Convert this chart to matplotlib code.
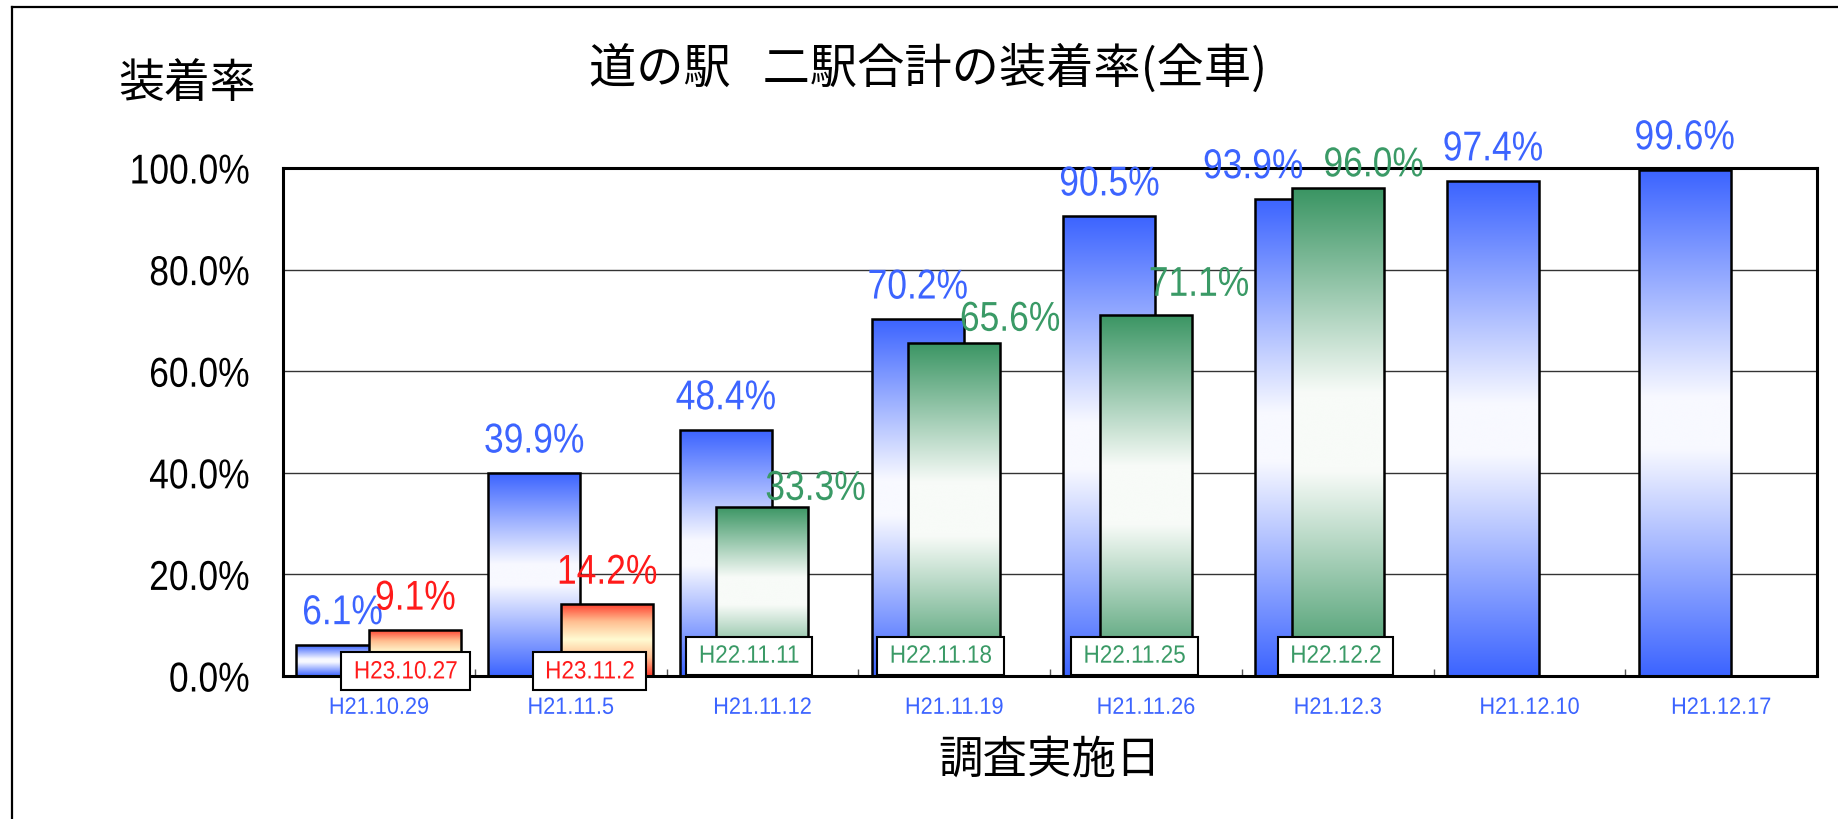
#!/usr/bin/env python
'''
plot.py: 道の駅 二駅合計の装着率(全車) - bar chart with gradient fills
'''

import numpy as np
import matplotlib
matplotlib.use('Agg')
import matplotlib.pyplot as plt
from matplotlib.colors import LinearSegmentedColormap
from matplotlib.lines import Line2D
from matplotlib.transforms import Affine2D
import matplotlib.patheffects as pe

# ---- data ----
survey_dates = ['H21.10.29', 'H21.11.5', 'H21.11.12', 'H21.11.19',
                'H21.11.26', 'H21.12.3', 'H21.12.10', 'H21.12.17']
rate_h21 = [6.1, 39.9, 48.4, 70.2, 90.5, 93.9, 97.4, 99.6]

dates_h22 = ['H22.11.11', 'H22.11.18', 'H22.11.25', 'H22.12.2']
slot_h22 = [2, 3, 4, 5]
rate_h22 = [33.3, 65.6, 71.1, 96.0]

dates_h23 = ['H23.10.27', 'H23.11.2']
slot_h23 = [0, 1]
rate_h23 = [9.1, 14.2]

yticks = [0, 20, 40, 60, 80, 100]

# ---- styling ----
NUM_FONT = ['Liberation Sans', 'Noto Sans CJK JP']
JP_FONT = ['Noto Sans CJK JP', 'DejaVu Sans']

blue = '#3C64FF'
green = '#3A9A66'
red = '#FF1A1A'

blue_cmap = LinearSegmentedColormap.from_list(
    'b', [(0, blue), (0.45, '#F8F9FF'), (0.55, '#F8F9FF'), (1, blue)])
green_cmap = LinearSegmentedColormap.from_list(
    'g', [(0, '#3A9563'), (0.42, '#F8FBF8'), (0.58, '#F8FBF8'), (1, '#3A9563')])
red_cmap = LinearSegmentedColormap.from_list(
    'r', [(0, '#FF3A2A'), (0.25, '#FFBE90'), (0.5, '#FFFBD2'),
          (0.75, '#FFBE90'), (1, '#FF3A2A')])

bar_w = 0.48
shift = 0.19


class Squeeze(pe.AbstractPathEffect):
    """Narrow the glyphs horizontally (the original uses a condensed face)."""

    def __init__(self, sx=0.85, anchor='center'):
        super().__init__()
        self.sx = sx
        self.anchor = anchor

    def draw_path(self, renderer, gc, tpath, affine, rgbFace=None):
        ext = tpath.get_extents()
        if self.anchor == 'right':
            cx = ext.x1
        elif self.anchor == 'left':
            cx = ext.x0
        else:
            cx = 0.5 * (ext.x0 + ext.x1)
        squeeze = Affine2D().translate(-cx, 0).scale(self.sx, 1).translate(cx, 0)
        renderer.draw_path(gc, tpath, squeeze + affine, rgbFace)


def gradient_bars(ax, x, heights, cmap, zorder):
    bars = ax.bar(x, heights, width=bar_w, facecolor='none', edgecolor='black',
                  linewidth=1.8, zorder=zorder + 0.1)
    grad = np.linspace(0, 1, 256).reshape(-1, 1)
    for bar in bars:
        x0, w, h = bar.get_x(), bar.get_width(), bar.get_height()
        im = ax.imshow(grad, cmap=cmap, extent=(x0, x0 + w, 0, h), origin='lower',
                       aspect='auto', interpolation='bicubic', zorder=zorder)
        im.set_clip_path(bar)
    return bars


def main():

    fig = plt.figure(figsize=(18.38, 8.19), dpi=100)
    ax = fig.add_axes([283 / 1838, 1 - 676 / 819, (1817 - 283) / 1838, (676 - 168) / 819])

    idx = np.arange(len(survey_dates))
    x21 = idx - shift
    x22 = np.array(slot_h22) * 1.0
    x23 = np.array(slot_h23) + shift

    gradient_bars(ax, x21, rate_h21, blue_cmap, 2)
    gradient_bars(ax, x22, rate_h22, green_cmap, 4)
    gradient_bars(ax, x23, rate_h23, red_cmap, 6)

    ax.set_xlim(-0.5, len(survey_dates) - 0.5)
    ax.set_ylim(0, 100)

    # gridlines
    for yv in yticks[1:-1]:
        ax.axhline(yv, color='#333333', lw=1.0, zorder=1)

    for s in ax.spines.values():
        s.set_linewidth(2.2)
        s.set_zorder(8)

    ax.set_yticks(yticks)
    ax.set_yticklabels(['{:.1f}%'.format(v) for v in yticks], family=NUM_FONT, fontsize=30)
    ax.tick_params(axis='y', length=0, pad=24)
    for lbl in ax.get_yticklabels():
        lbl.set_path_effects([Squeeze(0.85, 'right')])

    ax.set_xticks(idx)
    ax.set_xticklabels(survey_dates, family=NUM_FONT, fontsize=17, color=blue)
    ax.tick_params(axis='x', length=0, pad=15)
    for lbl in ax.get_xticklabels():
        lbl.set_path_effects([Squeeze(0.92)])
    ax.set_xticks(idx[:-1] + 0.5, minor=True)
    ax.tick_params(axis='x', which='minor', direction='in', length=5, width=1, color='#555555')

    # value labels (hand placed in the original, offsets in px)
    blue_dx = [0, 0, 0, 0, 0, -48, 0, 0]
    for x, v, dx in zip(x21, rate_h21, blue_dx):
        ax.annotate('{:.1f}%'.format(v), (x, v), xytext=(dx * 0.72, 15),
                    textcoords='offset points', ha='center', va='baseline',
                    family=NUM_FONT, fontsize=30, color=blue, zorder=9,
                    path_effects=[Squeeze(0.85)])

    green_dx = [53, 56, 53, 36]
    green_dy = [7, 12, 19, 12]
    for x, v, dx, dy in zip(x22, rate_h22, green_dx, green_dy):
        ax.annotate('{:.1f}%'.format(v), (x, v), xytext=(dx * 0.72, dy * 0.72),
                    textcoords='offset points', ha='center', va='baseline',
                    family=NUM_FONT, fontsize=30, color=green, zorder=9,
                    path_effects=[Squeeze(0.85)])

    for x, v in zip(x23, rate_h23):
        ax.annotate('{:.1f}%'.format(v), (x, v), xytext=(0, 14.5),
                    textcoords='offset points', ha='center', va='baseline',
                    family=NUM_FONT, fontsize=30, color=red, zorder=9,
                    path_effects=[Squeeze(0.85)])

    # survey date tags at the bar feet
    tag_dx_h22 = [-0.07, -0.07, -0.06, -0.01]
    for x, d, dx in zip(x22, dates_h22, tag_dx_h22):
        ax.text(x + dx, 4.0, d, ha='center', va='center', family=NUM_FONT,
                fontsize=18, color=green, zorder=10, clip_on=False,
                path_effects=[Squeeze(0.9)],
                bbox=dict(boxstyle='square,pad=0.28', fc='white', ec='black', lw=1.5))

    tag_dx_h23 = [-0.05, -0.09]
    for x, d, dx in zip(x23, dates_h23, tag_dx_h23):
        ax.text(x + dx, 0.9, d, ha='center', va='center', family=NUM_FONT,
                fontsize=18, color=red, zorder=10, clip_on=False,
                path_effects=[Squeeze(0.9)],
                bbox=dict(boxstyle='square,pad=0.28', fc='white', ec='black', lw=1.5))

    # titles
    fig.text(928 / 1838, 1 - 69 / 819, '道の駅   二駅合計の装着率(全車)',
             ha='center', va='center', family=JP_FONT, fontsize=34)
    fig.text(187 / 1838, 1 - 84 / 819, '装着率',
             ha='center', va='center', family=JP_FONT, fontsize=33)
    fig.text(1050 / 1838, 1 - 760 / 819, '調査実施日',
             ha='center', va='center', family=JP_FONT, fontsize=32)

    # outer frame (cut off at right and bottom in the original)
    fx, fy = 12 / 1838, 1 - 7 / 819
    fig.add_artist(Line2D([fx, 1.0], [fy, fy], transform=fig.transFigure, color='black', lw=1.6))
    fig.add_artist(Line2D([fx, fx], [0.0, fy], transform=fig.transFigure, color='black', lw=1.6))

    fig.savefig('out.png', dpi=100)
    plt.close(fig)


if __name__ == '__main__':
    main()
